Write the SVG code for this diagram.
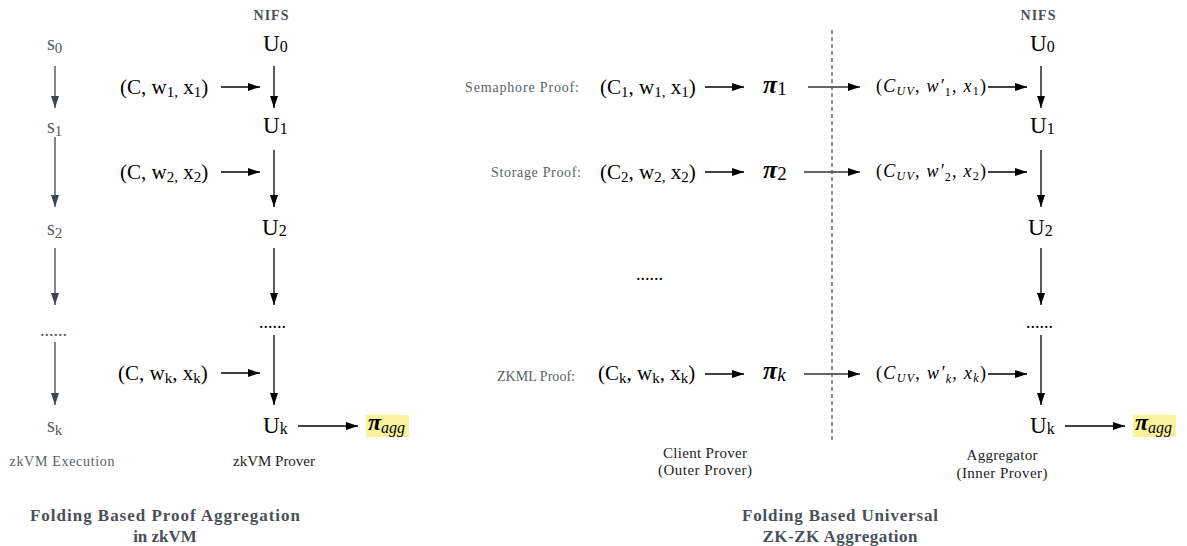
<svg xmlns="http://www.w3.org/2000/svg" width="1187" height="546" viewBox="0 0 1187 546">
<style>
.bg{fill:#ffffff}
.m{font-family:"Liberation Serif",serif;fill:#000}
.s{font-family:"Liberation Serif",serif;fill:#555a63}
.lbl{font-family:"Liberation Serif",serif;fill:#5a5f68;font-size:14px}
.cap{font-family:"Liberation Serif",serif;fill:#222;font-size:15px}
.ttl{font-family:"Liberation Serif",serif;fill:#4a505a;font-size:17px;font-weight:bold}
.nifs{font-family:"Liberation Serif",serif;fill:#4a505a;font-size:14px;font-weight:bold}
.it{font-style:italic}
.a{stroke:#000;stroke-width:1.3;fill:none}
.ag{stroke:#3e4450;stroke-width:1.3;fill:none}
.ah{stroke:#333;stroke-width:1.3;fill:none}
.dash{stroke:#555;stroke-width:1.3;stroke-dasharray:4 3;fill:none}
.hl{fill:#fbf29e}
</style>
<defs>
<marker id="mk" markerWidth="12" markerHeight="8" refX="12" refY="4" orient="auto" markerUnits="userSpaceOnUse"><path d="M0,0 L12,4 L0,8 z" fill="#000"/></marker>
<marker id="mkg" markerWidth="12" markerHeight="8" refX="12" refY="4" orient="auto" markerUnits="userSpaceOnUse"><path d="M0,0 L12,4 L0,8 z" fill="#3e4450"/></marker>
</defs>
<rect class="bg" x="0" y="0" width="1187" height="546"/>

<g id="connectors">
<line class="ag" x1="55" y1="66" x2="55" y2="108" marker-end="url(#mkg)"/>
<line class="ag" x1="55" y1="137" x2="55" y2="207" marker-end="url(#mkg)"/>
<line class="ag" x1="55" y1="248" x2="55" y2="305" marker-end="url(#mkg)"/>
<line class="ag" x1="55" y1="342" x2="55" y2="405" marker-end="url(#mkg)"/>
<line class="a" x1="274" y1="66" x2="274" y2="108" marker-end="url(#mk)"/>
<line class="a" x1="274" y1="150" x2="274" y2="207" marker-end="url(#mk)"/>
<line class="a" x1="274" y1="248" x2="274" y2="305" marker-end="url(#mk)"/>
<line class="a" x1="274" y1="335" x2="274" y2="405" marker-end="url(#mk)"/>
<line class="a" x1="221" y1="87" x2="260" y2="87" marker-end="url(#mk)"/>
<line class="a" x1="221" y1="172" x2="260" y2="172" marker-end="url(#mk)"/>
<line class="a" x1="221" y1="373" x2="260" y2="373" marker-end="url(#mk)"/>
<line class="a" x1="298" y1="426" x2="358" y2="426" marker-end="url(#mk)"/>
<line class="a" x1="705" y1="87" x2="744" y2="87" marker-end="url(#mk)"/>
<line class="a" x1="705" y1="172" x2="744" y2="172" marker-end="url(#mk)"/>
<line class="a" x1="705" y1="374" x2="744" y2="374" marker-end="url(#mk)"/>
<line class="ah" x1="808" y1="87" x2="860" y2="87" marker-end="url(#mk)"/>
<line class="ah" x1="804" y1="172" x2="860" y2="172" marker-end="url(#mk)"/>
<line class="ah" x1="804" y1="374" x2="860" y2="374" marker-end="url(#mk)"/>
<line class="dash" x1="832" y1="30" x2="832" y2="440"/>
<line class="a" x1="988" y1="87" x2="1027" y2="87" marker-end="url(#mk)"/>
<line class="a" x1="988" y1="172" x2="1027" y2="172" marker-end="url(#mk)"/>
<line class="a" x1="988" y1="374" x2="1027" y2="374" marker-end="url(#mk)"/>
<line class="a" x1="1041" y1="66" x2="1041" y2="108" marker-end="url(#mk)"/>
<line class="a" x1="1041" y1="150" x2="1041" y2="207" marker-end="url(#mk)"/>
<line class="a" x1="1041" y1="248" x2="1041" y2="305" marker-end="url(#mk)"/>
<line class="a" x1="1041" y1="335" x2="1041" y2="405" marker-end="url(#mk)"/>
<line class="a" x1="1065" y1="426" x2="1125" y2="426" marker-end="url(#mk)"/>
</g>

<g id="nifs-left"><text class="nifs" x="271" y="20" text-anchor="middle" textLength="35">NIFS</text></g>
<g id="s0"><text class="s" x="47" y="50" font-size="20">s<tspan font-size="15" dy="3">0</tspan></text></g>
<g id="s1"><text class="s" x="47" y="133" font-size="20">s<tspan font-size="15" dy="3">1</tspan></text></g>
<g id="s2"><text class="s" x="47" y="235" font-size="20">s<tspan font-size="15" dy="3">2</tspan></text></g>
<g id="sdots"><text class="s" x="40" y="336" font-size="18" fill="#333">......</text></g>
<g id="sk"><text class="s" x="47" y="432" font-size="20">s<tspan font-size="15" dy="3">k</tspan></text></g>

<g id="U0L"><text class="m" x="263" y="51" font-size="23">U<tspan font-size="16" dy="1">0</tspan></text></g>
<g id="U1L"><text class="m" x="263" y="133" font-size="23">U<tspan font-size="16" dy="1">1</tspan></text></g>
<g id="U2L"><text class="m" x="262" y="235" font-size="23">U<tspan font-size="16" dy="1">2</tspan></text></g>
<g id="UdotsL"><text class="m" x="259" y="328" font-size="18">......</text></g>
<g id="UkL"><text class="m" x="263" y="433" font-size="23">U<tspan font-size="16" dy="1">k</tspan></text></g>

<g id="in1L"><text class="m" x="120" y="94" font-size="21">(C, w<tspan font-size="15" dy="3">1,</tspan><tspan dy="-3"> x</tspan><tspan font-size="15" dy="3">1</tspan><tspan dy="-3">)</tspan></text></g>
<g id="in2L"><text class="m" x="120" y="179" font-size="21">(C, w<tspan font-size="15" dy="3">2,</tspan><tspan dy="-3"> x</tspan><tspan font-size="15" dy="3">2</tspan><tspan dy="-3">)</tspan></text></g>
<g id="inkL"><text class="m" x="118" y="380" font-size="21">(C, w<tspan font-size="15" dy="3">k</tspan><tspan dy="-3">, x</tspan><tspan font-size="15" dy="3">k</tspan><tspan dy="-3">)</tspan></text></g>

<g id="pi-aggL"><rect class="hl" x="366" y="415" width="43" height="22"/><text class="m it" x="368" y="430" font-size="24" font-weight="bold">π<tspan font-size="16" font-weight="normal" dy="3">agg</tspan></text></g>

<g id="execLabel"><text class="lbl" x="62" y="466" text-anchor="middle" font-size="15" textLength="105">zkVM Execution</text></g>
<g id="proverLabel"><text class="cap" x="274" y="466" text-anchor="middle" textLength="82">zkVM Prover</text></g>
<g id="titleL"><text class="ttl" x="165" y="521" text-anchor="middle" textLength="270">Folding Based Proof Aggregation</text><text class="ttl" x="165" y="542" text-anchor="middle">in zkVM</text></g>

<g id="semLabel"><text class="lbl" x="579" y="92" text-anchor="end" textLength="114">Semaphore Proof:</text></g>
<g id="stoLabel"><text class="lbl" x="581" y="177" text-anchor="end" textLength="90">Storage Proof:</text></g>
<g id="zkmlLabel"><text class="lbl" x="575" y="381" text-anchor="end" textLength="78">ZKML Proof:</text></g>

<g id="in1R"><text class="m" x="600" y="94" font-size="21">(C<tspan font-size="15" dy="3">1</tspan><tspan dy="-3">, w</tspan><tspan font-size="15" dy="3">1,</tspan><tspan dy="-3"> x</tspan><tspan font-size="15" dy="3">1</tspan><tspan dy="-3">)</tspan></text></g>
<g id="in2R"><text class="m" x="600" y="179" font-size="21">(C<tspan font-size="15" dy="3">2</tspan><tspan dy="-3">, w</tspan><tspan font-size="15" dy="3">2,</tspan><tspan dy="-3"> x</tspan><tspan font-size="15" dy="3">2</tspan><tspan dy="-3">)</tspan></text></g>
<g id="rdots"><text class="m" x="636" y="280" font-size="18">......</text></g>
<g id="inkR"><text class="m" x="598" y="380" font-size="21">(C<tspan font-size="15" dy="3">k</tspan><tspan dy="-3">, w</tspan><tspan font-size="15" dy="3">k</tspan><tspan dy="-3">, x</tspan><tspan font-size="15" dy="3">k</tspan><tspan dy="-3">)</tspan></text></g>

<g id="pi1"><text class="m" x="763" y="93" font-size="26"><tspan class="it" font-weight="bold">π</tspan><tspan font-size="19" dy="2">1</tspan></text></g>
<g id="pi2"><text class="m" x="763" y="178" font-size="26"><tspan class="it" font-weight="bold">π</tspan><tspan font-size="19" dy="2">2</tspan></text></g>
<g id="pik"><text class="m" x="763" y="379" font-size="26"><tspan class="it" font-weight="bold">π</tspan><tspan class="it" font-size="19" dy="2">k</tspan></text></g>

<g id="agg1"><text class="m" x="876" y="92" font-size="18" textLength="110">(<tspan class="it">C</tspan><tspan class="it" font-size="12" dy="3">UV</tspan><tspan dy="-3">, </tspan><tspan class="it">w′</tspan><tspan font-size="12" dy="4">1</tspan><tspan dy="-4">, </tspan><tspan class="it">x</tspan><tspan font-size="12" dy="3">1</tspan><tspan dy="-3">)</tspan></text></g>
<g id="agg2"><text class="m" x="876" y="177" font-size="18" textLength="110">(<tspan class="it">C</tspan><tspan class="it" font-size="12" dy="3">UV</tspan><tspan dy="-3">, </tspan><tspan class="it">w′</tspan><tspan font-size="12" dy="4">2</tspan><tspan dy="-4">, </tspan><tspan class="it">x</tspan><tspan font-size="12" dy="3">2</tspan><tspan dy="-3">)</tspan></text></g>
<g id="aggk"><text class="m" x="876" y="379" font-size="18" textLength="110">(<tspan class="it">C</tspan><tspan class="it" font-size="12" dy="3">UV</tspan><tspan dy="-3">, </tspan><tspan class="it">w′</tspan><tspan class="it" font-size="12" dy="4">k</tspan><tspan dy="-4">, </tspan><tspan class="it">x</tspan><tspan class="it" font-size="12" dy="3">k</tspan><tspan dy="-3">)</tspan></text></g>

<g id="nifs-right"><text class="nifs" x="1038" y="20" text-anchor="middle" textLength="35">NIFS</text></g>
<g id="U0R"><text class="m" x="1030" y="51" font-size="23">U<tspan font-size="16" dy="1">0</tspan></text></g>
<g id="U1R"><text class="m" x="1030" y="133" font-size="23">U<tspan font-size="16" dy="1">1</tspan></text></g>
<g id="U2R"><text class="m" x="1028" y="235" font-size="23">U<tspan font-size="16" dy="1">2</tspan></text></g>
<g id="UdotsR"><text class="m" x="1026" y="328" font-size="18">......</text></g>
<g id="UkR"><text class="m" x="1030" y="433" font-size="23">U<tspan font-size="16" dy="1">k</tspan></text></g>

<g id="pi-aggR"><rect class="hl" x="1133" y="415" width="43" height="22"/><text class="m it" x="1135" y="430" font-size="24" font-weight="bold">π<tspan font-size="16" font-weight="normal" dy="3">agg</tspan></text></g>

<g id="clientLabel"><text class="cap" x="705" y="458" text-anchor="middle" textLength="84">Client Prover</text><text class="cap" x="705" y="475" text-anchor="middle" textLength="94">(Outer Prover)</text></g>
<g id="aggLabel"><text class="cap" x="1002" y="460" text-anchor="middle" textLength="71">Aggregator</text><text class="cap" x="1002" y="478" text-anchor="middle" textLength="91">(Inner Prover)</text></g>
<g id="titleR"><text class="ttl" x="840" y="521" text-anchor="middle" textLength="196">Folding Based Universal</text><text class="ttl" x="840" y="542" text-anchor="middle" textLength="155">ZK-ZK Aggregation</text></g>
</svg>
